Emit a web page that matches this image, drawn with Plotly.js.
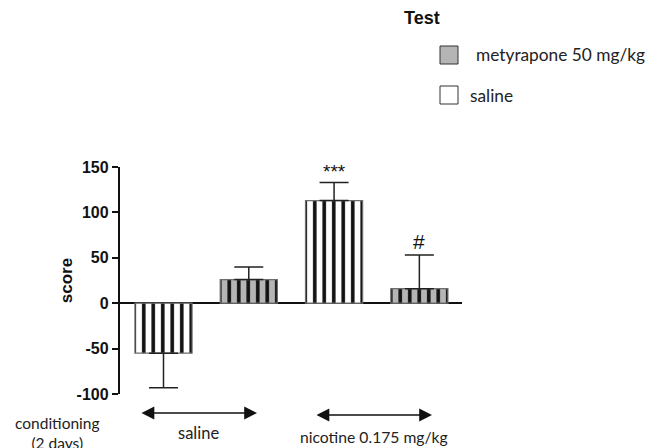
<!DOCTYPE html>
<html>
<head>
<meta charset="utf-8">
<script src="https://cdn.plot.ly/plotly-3.0.1.min.js"></script>
<style>html,body{margin:0;padding:0;background:#fff;}#chart{width:657px;height:448px;}</style>
</head>
<body>
<div id="chart"></div>
<script>
// ---- data ----
const groups = ['saline / saline', 'saline / metyrapone', 'nicotine / saline', 'nicotine / metyrapone'];
const groupX = [0, 1, 2, 3];
const scores = [-55, 26, 113, 16];
const errPlus = [0, 14, 20, 37];
const errMinus = [38, 0, 0, 0];
const testTreatment = ['saline', 'metyrapone 50 mg/kg', 'saline', 'metyrapone 50 mg/kg'];
const legendTitle = 'Test';
const legendNames = ['metyrapone 50 mg/kg', 'saline'];
const significance = ['', '', '***', '#'];
const conditioningLabels = ['saline', 'nicotine 0.175 mg/kg'];
const conditioningTitle = 'conditioning<br>(2 days)';
const yTickVals = [-100, -50, 0, 50, 100, 150];

// ---- layout helpers (pixel -> paper) ----
const L = 120, R = 462, T = 167, B = 394;
const px = x => (x - L) / (R - L);
const py = y => (B - y) / (B - T);

function traceFor(name, bg) {
  const idx = testTreatment.map((t, i) => t === name ? i : -1).filter(i => i >= 0);
  return {
    type: 'bar', name: name, showlegend: false,
    x: idx.map(i => groupX[i]),
    y: idx.map(i => scores[i]),
    width: 0.67,
    text: idx.map(i => groups[i]), hoverinfo: 'y+text', textposition: 'none',
    marker: {
      color: bg,
      line: {color: '#6e6e6e', width: 1.2},
      pattern: {shape: '|', fgcolor: '#111111', bgcolor: bg, fgopacity: 1, size: 9.5, solidity: 0.38, fillmode: 'replace'}
    },
    error_y: {
      type: 'data', symmetric: false,
      array: idx.map(i => errPlus[i]),
      arrayminus: idx.map(i => errMinus[i]),
      color: '#222', thickness: 1.5, width: 14.5
    }
  };
}

const data = [traceFor('saline', '#ffffff'), traceFor('metyrapone 50 mg/kg', '#b5b5b5')];

const annotations = [];
significance.forEach((s, i) => {
  if (!s) return;
  annotations.push({
    x: groupX[i], y: scores[i] + errPlus[i], xref: 'x', yref: 'y',
    text: s, showarrow: false, yanchor: 'bottom', xanchor: 'center', yshift: s === '#' ? 0 : -2,
    font: {family: 'Liberation Sans, Arial', size: s === '#' ? 21 : 19, color: '#111'}
  });
});

// conditioning arrows (double headed), pixel positions converted to paper
const arrowSpans = [[140, 257], [315, 432]];
const arrowY = [413, 415];
const labelY = [433, 437];
arrowSpans.forEach((sp, k) => {
  annotations.push({
    x: px(sp[1]), y: py(arrowY[k]), ax: px(sp[0]), ay: py(arrowY[k]),
    xref: 'paper', yref: 'paper', axref: 'paper', ayref: 'paper',
    showarrow: true, arrowside: 'end+start', arrowhead: 2, startarrowhead: 2,
    arrowsize: 1.6, startarrowsize: 1.6, arrowwidth: 1.6, arrowcolor: '#111', text: ''
  });
  annotations.push({
    x: px((sp[0] + sp[1]) / 2), y: py(labelY[k]), xref: 'paper', yref: 'paper',
    xanchor: 'center', yanchor: 'middle',
    text: conditioningLabels[k], showarrow: false,
    font: {family: 'Lato, Carlito, sans-serif', size: k === 0 ? 16.5 : 15.7, color: '#222'}
  });
});
annotations.push({
  x: px(57), y: py(433), xref: 'paper', yref: 'paper', xanchor: 'center', yanchor: 'middle',
  text: conditioningTitle, showarrow: false,
  font: {family: 'Lato, Carlito, sans-serif', size: 15.5, color: '#222'}, align: 'center'
});

// custom legend
annotations.push({
  x: px(402), y: py(18), xref: 'paper', yref: 'paper', xanchor: 'left', yanchor: 'middle',
  text: '<b>' + legendTitle + '</b>',
  showarrow: false, font: {family: 'Liberation Sans, Arial', size: 18, color: '#111'}
});
const legendRows = [{y: 55, fill: '#b5b5b5', tx: 474}, {y: 95, fill: '#ffffff', tx: 468}];
const shapes = [];
legendNames.forEach((n, k) => {
  const r = legendRows[k];
  shapes.push({type: 'rect', xref: 'paper', yref: 'paper', x0: px(440), x1: px(458), y0: py(r.y - 9), y1: py(r.y + 9),
    fillcolor: r.fill, line: {color: '#333', width: 1}});
  annotations.push({
    x: px(r.tx), y: py(r.y), xref: 'paper', yref: 'paper', xanchor: 'left', yanchor: 'middle',
    text: n, showarrow: false,
    font: {family: 'Lato, Carlito, sans-serif', size: 17.3, color: '#222'}
  });
});

const layout = {
  width: 657, height: 448,
  margin: {l: L, r: 657 - R, t: T, b: 448 - B, pad: 0},
  paper_bgcolor: '#fff', plot_bgcolor: '#fff',
  barmode: 'overlay',
  showlegend: false,
  xaxis: {range: [-0.51, 3.5], showgrid: false, zeroline: false, showline: false, showticklabels: false, ticks: ''},
  yaxis: {
    range: [-100, 150], tickvals: yTickVals, ticktext: yTickVals.map(String),
    showgrid: false, zeroline: true, zerolinecolor: '#111', zerolinewidth: 2,
    showline: true, linecolor: '#111', linewidth: 2.2,
    ticks: 'outside', ticklen: 6, tickwidth: 2, tickcolor: '#111',
    tickfont: {family: 'Liberation Sans, Arial', size: 16, color: '#111', weight: 'bold'},
    title: {text: '<b>score</b>', standoff: 0, font: {family: 'Liberation Sans, Arial', size: 17, color: '#111'}}
  },
  annotations: annotations,
  shapes: shapes
};

Plotly.newPlot('chart', data, layout, {displayModeBar: false, staticPlot: true});
</script>
</body>
</html>
